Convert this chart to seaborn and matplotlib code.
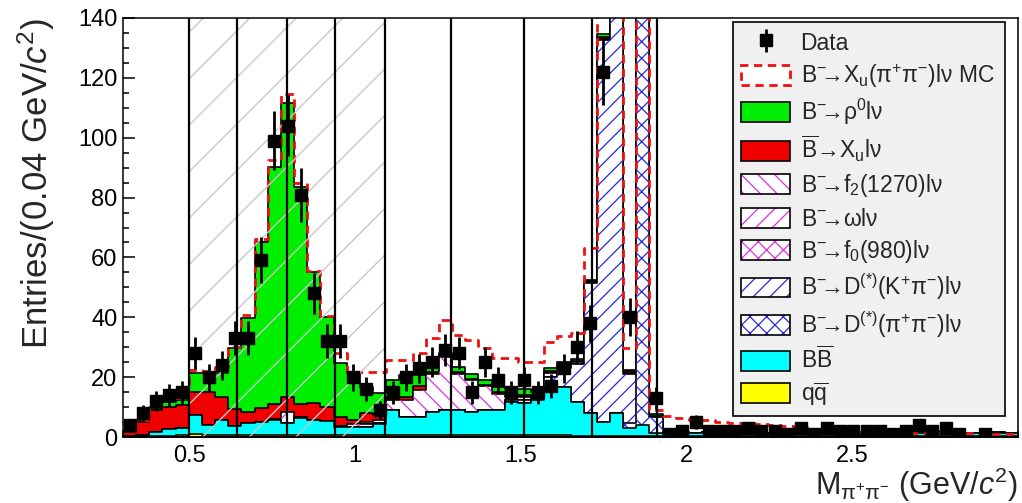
import numpy as np
import matplotlib
matplotlib.use("Agg")
import matplotlib.pyplot as plt
import matplotlib.patches as mpatches
import matplotlib.transforms as mtransforms
from matplotlib.legend_handler import HandlerPatch
from matplotlib.ticker import FixedLocator, MultipleLocator, FuncFormatter
import seaborn as sns

# ---------------- binning ----------------
X_MIN, X_MAX, N_BINS = 0.3, 3.0, 68

# ---------------- stacked MC components (bottom -> top) ----------------
qq = [0.2, 0.3, 0.4, 0.5, 0.6,
      1.0, 0.8, 0.8, 0.8, 0.7, 0.8, 0.8, 0.8, 0.8, 0.8, 0.7, 0.7, 0.7, 0.7, 0.7,
      0.6, 0.6, 0.7, 0.6, 0.7, 0.6, 0.6, 0.7, 0.6, 0.6, 0.7, 0.6, 0.7, 0.6, 0.5, 0.5, 0.5, 0.5, 0.4, 0.4, 0.4,
      0.3, 0.3, 0.2, 0.3, 0.3, 0.2, 0.4, 0.3, 0.2, 0.3, 0.5, 0.2, 0.3, 0.2, 0.3, 0.2, 0.3, 0.2, 0.3, 0.2, 0.4,
      0.2, 0.3, 0.2, 0.2, 0.2, 0.2]
bb = [0.3, 0.5, 1.4, 2.1, 2.3,
      6.3, 3.2, 4.9, 3.0, 3.9, 4.3, 4.9, 3.8, 5.5, 5.0, 4.5, 2.6, 2.8, 2.5, 3.5,
      8.4, 6.2, 6.1, 7.9, 8.3, 8.4, 7.9, 8.3, 8.4, 11.2, 10.8, 11.9, 16.1, 16.2, 11.3, 7.5, 4.6, 7.5, 2.6, 3.6, 0.9,
      0.8, 1.2, 1.0, 1.3, 1.1, 1.0, 1.2, 1.0, 0.9, 1.4, 1.0, 1.3, 1.2, 1.0, 1.1, 0.9, 1.0, 1.2, 1.0, 1.1, 1.3,
      1.0, 1.4, 1.1, 1.0, 1.3, 1.0]
d_pipi = [0.0] * 38 + [1.6, 300.0, 5.5, 0.3] + [0.0] * 26
d_kpi = [0.0] * 29 + [0.5, 0.7, 0.5, 3.2, 6.2, 12.7, 43.5, 127.5, 260.0, 16.4] + [0.0] * 29
f0 = [0.0] * 16 + [0.4, 0.8, 1.2, 0.5] + [0.0] * 48
omega = [0.0] * 11 + [0.3, 3.9, 0.3] + [0.0] * 54
f2 = ([0.0] * 18 + [0.5, 1.0, 3.4, 5.6, 8.8, 12.5, 17.8, 12.0, 10.5, 8.0, 5.4, 1.2, 1.3, 0.5, 1.5, 0.5, 0.5,
                    0.3, 0.5, 0.0, 0.5] + [0.0] * 29)
xu = [1.2, 4.3, 7.2, 7.5, 7.8,
      7.8, 11.1, 7.8, 5.7, 3.9, 4.5, 5.0, 4.8, 4.4, 5.4, 4.7, 3.1, 1.4, 3.0, 1.5,
      0.8, 0.8, 1.4, 0.8, 0.5, 0.7, 0.5, 0.4, 0.6, 0.5, 0.5, 0.4, 0.5, 0.5, 0.5, 0.3, 0.5, 0.3, 0.4, 0.2, 0.3] + [0.1] * 27
rho = [0.2, 0.4, 0.6, 1.7, 1.8,
       6.2, 6.2, 7.8, 20.3, 31.2, 55.7, 79.3, 98.2, 72.6, 44.0, 30.3, 17.8, 15.7, 8.9, 7.5,
       5.8, 7.5, 3.7, 1.7, 0.7, 1.8, 1.5, 1.6, 1.6, 2.0, 2.0, 1.1, 1.0, 1.0, 0.5, 0.4, 1.2, 0.5, 0.5, 0.3, 0.6] + [0.1] * 27

# ---------------- alternative MC (red dashed) ----------------
mc_xu = [2.2, 5.8, 10.2, 12.3, 13.0,
         22.4, 22.0, 23.5, 30.0, 40.7, 66.0, 92.5, 114.6, 85.0, 55.5, 40.5, 28.0, 21.8, 21.8, 21.8,
         25.7, 25.7, 28.0, 33.0, 39.1, 34.0, 32.4, 29.6, 26.3, 26.3, 25.2, 25.2, 31.8, 33.6, 34.7, 63.0,
         180.0, 260.0, 29.7, 300.0, 9.0,
         7.0, 6.2, 5.7, 5.6, 5.1, 4.8, 4.6, 4.3, 4.0, 3.7, 3.5, 2.4, 2.0, 1.8, 1.7, 1.6, 1.5, 1.5, 1.4,
         1.4, 1.3, 1.3, 1.2, 1.2, 1.2, 1.1, 1.1]

# ---------------- data ----------------
nan = np.nan
data = [4, 8, 12, 14, 15,
        28, 20, 24, 33, 33, 59, 99, 104, 81, 48, 32, 32, 20, 16, 9,
        15, 20, 23, 25, 29, 28, 15, 25, 19, 15, 19, 15, 17, 23, 30, 38, 122, nan, 40, nan, 13,
        1, 2, 5, 2, 2, 2, 3, 2, 2, 1, 3, 1, 3, 2, 2, 2, 2, 1, 2, 4, 2, 3, 1, nan, 1, nan, nan]

# vertical boundary lines and shaded region
boundaries = [0.50, 0.645, 0.795, 0.94, 1.09, 1.29, 1.51, 1.715, 1.91]
shaded_range = (0.50, 1.09)

ARW = r"$^{-}\!\!$→"
labels = [
    "Data",
    r"B" + ARW + r"X$_{\mathrm{u}}$(π$^{+}$π$^{-}$)lν MC",
    r"B" + ARW + r"ρ$^{0}$lν",
    r"$\overline{\mathrm{B}}$→X$_{\mathrm{u}}$lν",
    r"B" + ARW + r"f$_{2}$(1270)lν",
    r"B" + ARW + r"ωlν",
    r"B" + ARW + r"f$_{0}$(980)lν",
    r"B" + ARW + r"D$^{(*)}$(K$^{+}$π$^{-}$)lν",
    r"B" + ARW + r"D$^{(*)}$(π$^{+}$π$^{-}$)lν",
    r"B$\overline{\mathrm{B}}$",
    r"q$\overline{\mathrm{q}}$",
]

# ---------------- style ----------------
sns.set_style("ticks")
plt.rcParams.update({
    "font.family": ["Liberation Sans", "DejaVu Sans"],
    "mathtext.fontset": "custom",
    "mathtext.rm": "Liberation Sans",
    "mathtext.it": "Liberation Sans:italic",
    "mathtext.bf": "Liberation Sans:bold",
    "mathtext.sf": "Liberation Sans",
    "hatch.linewidth": 0.9,
    "axes.linewidth": 1.1,
    "axes.edgecolor": "black",
})

GREEN, RED, CYAN, YELLOW = "#00ee00", "#f00000", "#00ffff", "#ffff00"
MAG, BLUE = "#e030e0", "#2828dc"
MC_COLOR = "#ee1111"
OUT_LW = 1.2

# (values, facecolor, hatch, hatchcolor)
layers = [
    (qq, YELLOW, None, None),
    (bb, CYAN, None, None),
    (d_pipi, "white", "xx", BLUE),
    (d_kpi, "white", "//", BLUE),
    (f0, "white", "xx", MAG),
    (omega, "white", "//", MAG),
    (f2, "white", "\\\\", MAG),
    (xu, RED, None, None),
    (rho, GREEN, None, None),
]

edges = np.linspace(X_MIN, X_MAX, N_BINS + 1)
bin_list = edges.tolist()
centers = 0.5 * (edges[:-1] + edges[1:])
stack = np.cumsum(np.array([np.asarray(v, float) for v, *_ in layers]), axis=0)

fig = plt.figure(figsize=(10.22, 5.03), dpi=100)
ax = fig.add_axes([123 / 1022, 66 / 503, 895 / 1022, 419 / 503])

# draw the stack from the top cumulative layer down
for i in reversed(range(len(layers))):
    _, fc, hatch, hc = layers[i]
    sns.histplot(x=centers, weights=stack[i], bins=bin_list, element="step", fill=True,
                 color=fc, facecolor=fc, edgecolor="black", linewidth=OUT_LW,
                 alpha=1, ax=ax, zorder=2)
    if hatch is not None:
        with plt.rc_context({"hatch.color": hc}):
            sns.histplot(x=centers, weights=stack[i], bins=bin_list, element="step", fill=True,
                         color=hc, facecolor="none", edgecolor=hc, linewidth=0,
                         hatch=hatch, alpha=1, ax=ax, zorder=2)

# alternative MC, red dashed
sns.histplot(x=centers, weights=mc_xu, bins=bin_list, element="step", fill=False,
             color=MC_COLOR, linewidth=2.0, linestyle=(0, (3, 2)), ax=ax, zorder=4)

ax.set_xlim(X_MIN, X_MAX)
ax.set_ylim(0, 140)

# shaded (gray diagonal lines) region
fig_w, fig_h = fig.get_size_inches() * fig.dpi
pos = ax.get_position()
ax_w, ax_h = pos.width * fig_w, pos.height * fig_h
slope = ax_w / ax_h
spacing = 46.5 / ax_w
a_lo = (shaded_range[0] - X_MIN) / (X_MAX - X_MIN)
a_hi = (shaded_range[1] - X_MIN) / (X_MAX - X_MIN)
blend = mtransforms.blended_transform_factory(ax.transData, ax.transAxes)
clip_rect = mpatches.Rectangle((shaded_range[0], 0), shaded_range[1] - shaded_range[0], 1,
                               transform=blend)
start = a_lo + 13.5 / ax_w - spacing * np.ceil((1 / slope) / spacing)
for a0 in np.arange(start, a_hi, spacing):
    ln, = ax.plot([a0, a0 + 1 / slope], [0, 1], transform=ax.transAxes,
                  color="#c8c8c8", lw=1.0, zorder=5)
    ln.set_clip_path(clip_rect)

# vertical boundary lines
for b in boundaries:
    ax.axvline(b, color="black", lw=1.6, zorder=6)

# data points
d = np.asarray(data, float)
ok = ~np.isnan(d)
eb = ax.errorbar(centers[ok], d[ok], yerr=np.sqrt(d[ok]), fmt="s", color="black",
                 ms=8.5, elinewidth=2, capsize=0, zorder=8)

# ---------------- axes ----------------
ax.xaxis.set_major_locator(FixedLocator([0.5, 1.0, 1.5, 2.0, 2.5]))
ax.xaxis.set_minor_locator(MultipleLocator(0.1))
ax.xaxis.set_major_formatter(FuncFormatter(lambda v, p: f"{v:g}"))
ax.yaxis.set_major_locator(MultipleLocator(20))
ax.yaxis.set_minor_locator(MultipleLocator(5))
ax.tick_params(which="both", direction="in", top=False, right=False, width=1.1,
               labelsize=17, colors="black")
ax.tick_params(which="major", length=8.6)
ax.tick_params(which="minor", length=4.3)
ax.tick_params(axis="x", pad=6)
ax.tick_params(axis="y", pad=4)
for s in ax.spines.values():
    s.set_color("black")
    s.set_linewidth(1.1)
    s.set_zorder(12)

ax.set_ylabel(r"Entries/(0.04 GeV/$c^{2}$)", fontsize=25, loc="top")
ax.yaxis.set_label_coords(-0.074, 1.0)
ax.set_xlabel(r"M$_{\mathrm{π}^{+}\mathrm{π}^{-}}$ (GeV/$c^{2}$)", fontsize=22, loc="right")
ax.xaxis.set_label_coords(1.0, -0.069)

# ---------------- legend ----------------
def short_rect(legend, orig_handle, xdescent, ydescent, width, height, fontsize):
    h = 0.8 * height
    return mpatches.Rectangle((-xdescent, -ydescent + 0.5 * (height - h)), width, h)


def outline():
    return mpatches.Patch(facecolor="none", edgecolor="black", linewidth=OUT_LW)


def hatched(hatch, hc):
    return (mpatches.Patch(facecolor="white", edgecolor=hc, linewidth=0, hatch=hatch), outline())


handles = [
    eb,
    mpatches.Patch(facecolor="white", edgecolor=MC_COLOR, linestyle=(0, (3, 2)), linewidth=2.0),
    mpatches.Patch(facecolor=GREEN, edgecolor="black", linewidth=OUT_LW),
    mpatches.Patch(facecolor=RED, edgecolor="black", linewidth=OUT_LW),
    hatched("\\\\", MAG),
    hatched("//", MAG),
    hatched("xx", MAG),
    hatched("//", BLUE),
    hatched("xx", BLUE),
    mpatches.Patch(facecolor=CYAN, edgecolor="black", linewidth=OUT_LW),
    mpatches.Patch(facecolor=YELLOW, edgecolor="black", linewidth=OUT_LW),
]

lx0 = (733 - 123) / 895
lx1 = (1005 - 123) / 895
ly1 = (437 - 22) / 419
ly0 = (437 - 412) / 419
leg = ax.legend(handles, labels, loc="upper left",
                bbox_to_anchor=(lx0, ly0, lx1 - lx0, ly1 - ly0), mode="expand",
                fontsize=16.5, frameon=True, fancybox=False, framealpha=1,
                facecolor="#f0f0f0", edgecolor="black", borderpad=0.35,
                labelspacing=0.3, handlelength=2.15, handleheight=1.3,
                handletextpad=0.45, borderaxespad=0, numpoints=1,
                handler_map={mpatches.Patch: HandlerPatch(patch_func=short_rect)})
leg.get_frame().set_linewidth(1.2)
leg.set_zorder(20)

fig.savefig("out.png", dpi=100)
